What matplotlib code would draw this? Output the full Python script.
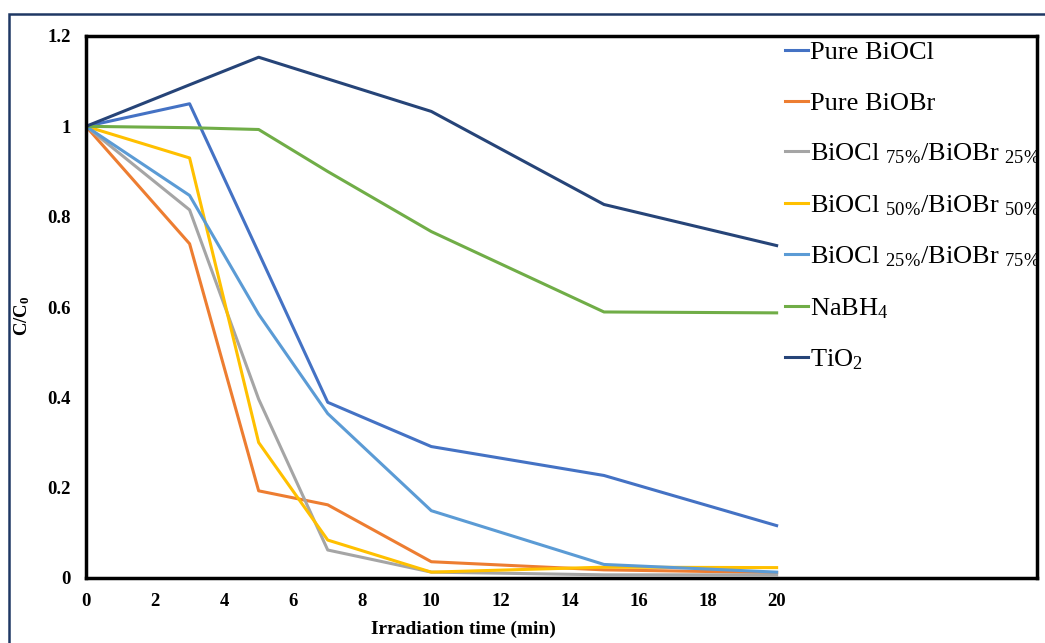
import numpy as np
import matplotlib.pyplot as plt
from matplotlib.patches import Rectangle

plt.rcParams['font.family'] = ['Liberation Serif', 'DejaVu Serif']
plt.rcParams['mathtext.fontset'] = 'custom'
plt.rcParams['mathtext.rm'] = 'Liberation Serif'
plt.rcParams['mathtext.it'] = 'Liberation Serif'
plt.rcParams['mathtext.bf'] = 'Liberation Serif:bold'

time = [0, 3, 5, 7, 10, 15, 20]
pure_biocl = [1.0, 1.05, 0.72, 0.389, 0.291, 0.227, 0.116]
pure_biobr = [1.0, 0.74, 0.193, 0.162, 0.036, 0.018, 0.012]
cl75_br25 = [1.0, 0.815, 0.396, 0.062, 0.013, 0.007, 0.007]
cl50_br50 = [1.0, 0.93, 0.30, 0.084, 0.013, 0.024, 0.023]
cl25_br75 = [1.0, 0.847, 0.584, 0.364, 0.149, 0.030, 0.013]
nabh4 = [1.0, 0.997, 0.993, 0.90, 0.767, 0.589, 0.587]
tio2 = [1.0, 1.092, 1.153, 1.105, 1.033, 0.827, 0.736]

series = [pure_biocl, pure_biobr, cl75_br25, cl50_br50, cl25_br75, nabh4, tio2]
labels = ['Pure BiOCl', 'Pure BiOBr',
          r'BiOCl $_{75\%}$/BiOBr $_{25\%}$',
          r'BiOCl $_{50\%}$/BiOBr $_{50\%}$',
          r'BiOCl $_{25\%}$/BiOBr $_{75\%}$',
          r'NaBH$_4$', r'TiO$_2$']
colors = ['#4472C4', '#ED7D31', '#A5A5A5', '#FFC000', '#5B9BD5', '#70AD47', '#264478']

xticks = [0, 2, 4, 6, 8, 10, 12, 14, 16, 18, 20]
yticks = [0, 0.2, 0.4, 0.6, 0.8, 1, 1.2]
ytick_labels = ['0', '0.2', '0.4', '0.6', '0.8', '1', '1.2']

fig = plt.figure(figsize=(10.45, 6.43), dpi=100)
# outer navy frame (only left and top edges show in the crop)
fig.patches.append(Rectangle((9 / 1045, -0.1), 1.2, 1 - 14 / 643 + 0.1,
                             transform=fig.transFigure, fill=False,
                             edgecolor='#1F3864', linewidth=1.8))
ax = fig.add_axes([86 / 1045, 1 - 578 / 643, (1037 - 86) / 1045, (578 - 36) / 643])

for ys, lab, c in zip(series, labels, colors):
    ax.plot(time, ys, color=c, linewidth=2.2, label=lab)

ax.set_xlim(0, 27.54)
ax.set_ylim(0, 1.2)
ax.set_xticks(xticks)
ax.set_xticklabels([str(t) for t in xticks], fontweight='bold', fontsize=13.5)
ax.set_yticks(yticks)
ax.set_yticklabels(ytick_labels, fontweight='bold', fontsize=13.5)
ax.tick_params(axis='both', length=0)
ax.tick_params(axis='x', pad=11)
ax.tick_params(axis='y', pad=11)
for sp in ax.spines.values():
    sp.set_linewidth(2.5)
    sp.set_color('black')

ax.set_ylabel(r'C/C$_\mathbf{0}$', fontweight='bold', fontsize=13.5)
ax.yaxis.set_label_coords(-0.057, 0.483)
ax.set_xlabel('Irradiation time (min)', fontweight='bold', fontsize=14)
ax.xaxis.set_label_coords(0.397, -0.078)

ax.legend(loc='upper left', bbox_to_anchor=(0.735, 0.991),
          frameon=False, fontsize=19, handlelength=0.87, handletextpad=0.08,
          labelspacing=1.02, borderaxespad=0, borderpad=0)

fig.savefig('out.png', dpi=100)
